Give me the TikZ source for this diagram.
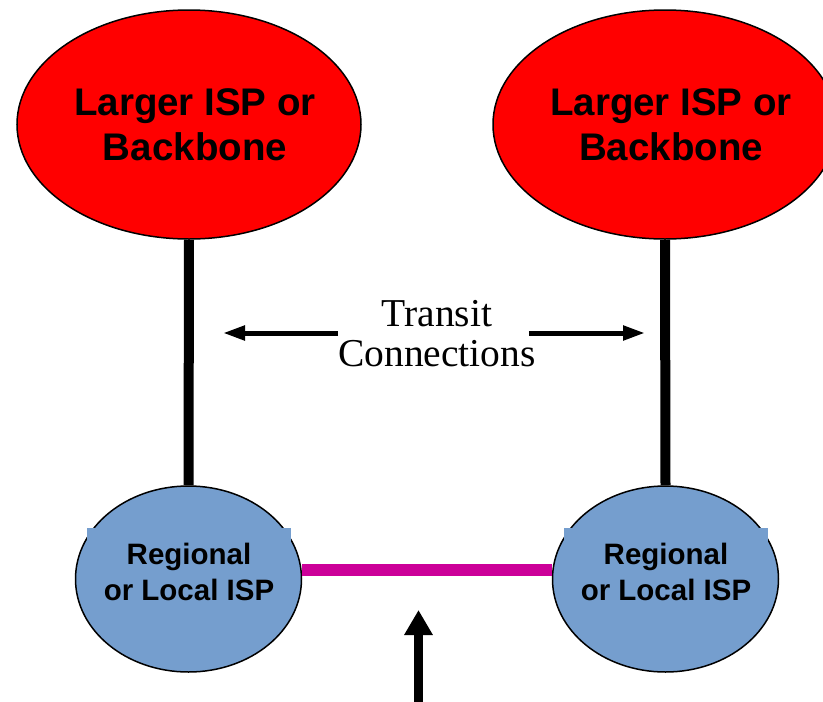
\documentclass[tikz,border=0pt]{standalone}
\usepackage{fontspec}
\setmainfont{Liberation Serif}
\setsansfont{Liberation Sans}
\usetikzlibrary{calc,shapes,arrows.meta}
\definecolor{ispred}{RGB}{255,0,0}
\definecolor{ispblue}{RGB}{117,158,206}
\definecolor{peerline}{RGB}{204,0,153}

\begin{document}
\begin{tikzpicture}[x=1pt,y=-1pt,
    big/.style={ellipse,draw=black,line width=1.5pt,fill=ispred,minimum width=344pt,minimum height=229pt,inner xsep=-20pt,inner ysep=0pt,align=center,font=\sffamily\bfseries\fontsize{38.5}{45}\selectfont},
    small/.style={ellipse,draw=black,line width=1.5pt,fill=ispblue,minimum width=226pt,minimum height=186pt,inner sep=0pt},
    txtbox/.style={rectangle,fill=ispblue,minimum width=204pt,minimum height=88pt,inner sep=0pt,align=center,font=\sffamily\bfseries\fontsize{29.5}{36}\selectfont}]
    \useasboundingbox (0,0) rectangle (823,702);
    % upstream providers
    \node[big] (BL) at (189,124.5) {\hspace*{12pt}Larger ISP or\\\hspace*{12pt}Backbone};
    \node[big] (BR) at (665,124.5) {\hspace*{12pt}Larger ISP or\\\hspace*{12pt}Backbone};
    % regional ISPs
    \node[small] (RL) at (188.5,579) {};
    \node[txtbox] (RLt) at (189,572) {Regional\\or Local ISP};
    \node[small] (RR) at (665.5,579) {};
    \node[txtbox] (RRt) at (666,572) {Regional\\or Local ISP};
    % links
    \draw[line width=10pt] (BL.south) -- (RL.north);
    \draw[line width=10pt] (BR.south) -- (RR.north);
    \draw[line width=12pt,peerline] ($(RL.east)+(0,-9)$) -- ($(RR.west)+(0,-9)$);
    % label and arrows
    \node[align=center,inner sep=0pt,font=\fontsize{39.5}{40}\selectfont] (tc) at (437,334) {Transit\\Connections};
    \coordinate (tl) at (223,333);
    \coordinate (tr) at (645,333);
    \draw[line width=5pt,-{Triangle[length=22pt,width=14pt]}] (tc.west |- tl) -- (tl);
    \draw[line width=5pt,-{Triangle[length=22pt,width=14pt]},shorten <=-7pt] (tc.east |- tr) -- (tr);
    \coordinate (pb) at (418.5,702);
    \coordinate (pt) at (418.5,610);
    \draw[line width=9pt,-{Triangle[length=25pt,width=27pt]}] (pb) -- (pt);
\end{tikzpicture}
\end{document}
